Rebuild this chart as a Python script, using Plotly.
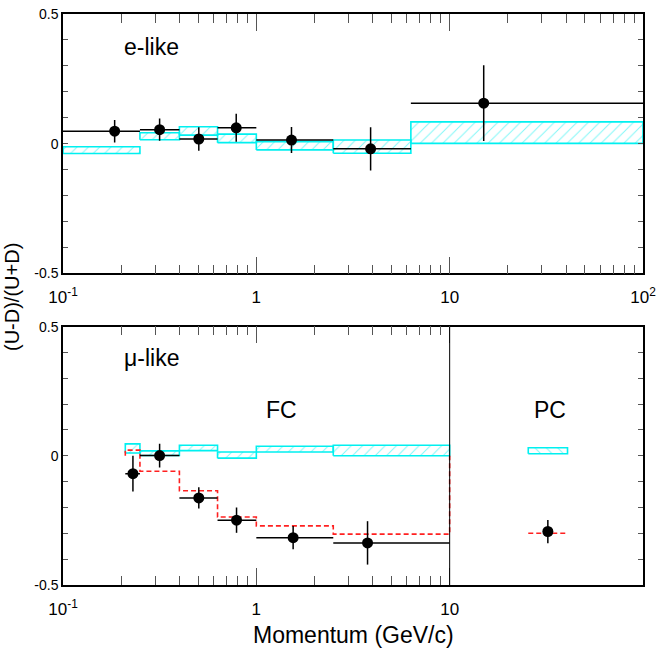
import plotly.graph_objects as go
from plotly.subplots import make_subplots

# ---------------- data ----------------
# e-like (top panel)
e_edges = [0.1, 0.25, 0.4, 0.63, 1.0, 2.5, 6.3, 100.0]
e_x = [0.185, 0.316, 0.504, 0.787, 1.52, 3.9, 15.0]
e_y = [0.048, 0.054, 0.018, 0.061, 0.014, -0.020, 0.156]
e_err = [0.043, 0.043, 0.045, 0.054, 0.050, 0.083, 0.146]
e_mc_hi = [-0.012, 0.042, 0.065, 0.037, 0.008, 0.014, 0.084]
e_mc_lo = [-0.038, 0.015, 0.033, 0.004, -0.024, -0.037, 0.001]

# mu-like FC (bottom panel)
m_edges = [0.21, 0.25, 0.4, 0.63, 1.0, 2.5, 10.0]
m_x = [0.23, 0.316, 0.504, 0.79, 1.55, 3.76]
m_y = [-0.069, 0.001, -0.163, -0.249, -0.317, -0.337]
m_err = [0.069, 0.046, 0.041, 0.049, 0.045, 0.084]
m_mc_hi = [0.046, 0.019, 0.041, 0.015, 0.037, 0.041]
m_mc_lo = [0.011, 0.001, 0.020, -0.009, 0.015, 0.000]
m_noosc = [0.022, -0.060, -0.135, -0.237, -0.271, -0.303]

# mu-like PC
pc_edges = [25.5, 40.7]
pc_x = [32.2]
pc_y = [-0.293]
pc_err = [0.045]
pc_mc_hi = [0.031]
pc_mc_lo = [0.008]
pc_noosc = [-0.300]

x_major = [0.1, 1, 10, 100]
x_major_text = ["10<sup>-1</sup>", "1", "10", "10<sup>2</sup>"]
x_minor_top = [m * 10 ** k for k in (-1, 0, 1) for m in range(2, 10)]
x_minor_bot = [m * 10 ** k for k in (-1, 0) for m in range(2, 10)]
y_major = [-0.5, 0, 0.5]
y_major_text = ["-0.5", "0", "0.5"]

CYAN = "#00f0f0"
FONT = "Liberation Sans"

fig = make_subplots(rows=2, cols=1, vertical_spacing=0.0)


def boxes(edges, lo, hi):
    xs, ys = [], []
    for i in range(len(lo)):
        x0, x1 = edges[i], edges[i + 1]
        xs += [x0, x1, x1, x0, x0, None]
        ys += [lo[i], lo[i], hi[i], hi[i], lo[i], None]
    return xs, ys


def add_boxes(edges, lo, hi, row, shape="/"):
    xs, ys = boxes(edges, lo, hi)
    fig.add_trace(go.Scatter(
        x=xs, y=ys, mode="lines", fill="toself",
        fillcolor="rgba(0,0,0,0)",
        fillpattern=dict(shape=shape, fgcolor=CYAN, bgcolor="white",
                         size=8, solidity=0.12),
        line=dict(color=CYAN, width=1.6), hoverinfo="skip",
        showlegend=False), row=row, col=1)


def add_points(xs, ys, err, edges, row, xbar=True):
    kw = {}
    if xbar:
        kw["error_x"] = dict(type="data", symmetric=False,
                             array=[edges[i + 1] - xs[i] for i in range(len(xs))],
                             arrayminus=[xs[i] - edges[i] for i in range(len(xs))],
                             color="black", thickness=1.5, width=0)
    fig.add_trace(go.Scatter(
        x=xs, y=ys, mode="markers",
        marker=dict(color="black", size=11, symbol="circle"),
        error_y=dict(type="data", array=err, color="black",
                     thickness=1.5, width=0),
        showlegend=False, **kw), row=row, col=1)


# top panel
add_boxes(e_edges, e_mc_lo, e_mc_hi, 1)
add_points(e_x, e_y, e_err, e_edges, 1)

# bottom panel
add_boxes(m_edges, m_mc_lo, m_mc_hi, 2)
add_boxes(pc_edges, pc_mc_lo, pc_mc_hi, 2, shape="\\")
step_x = [m_edges[0]] + m_edges[:-1] + [m_edges[-1], m_edges[-1]]
step_y = [0] + m_noosc + [m_noosc[-1], 0]
fig.add_trace(go.Scatter(x=step_x, y=step_y, mode="lines", line_shape="hv",
                         line=dict(color="#ff2020", width=1.6, dash="5px,3px"),
                         showlegend=False), row=2, col=1)
fig.add_trace(go.Scatter(x=pc_edges, y=pc_noosc * 2, mode="lines",
                         line=dict(color="#ff2020", width=1.6, dash="5px,3px"),
                         showlegend=False), row=2, col=1)
add_points(m_x, m_y, m_err, m_edges, 2)
add_points(pc_x, pc_y, pc_err, pc_edges, 2, xbar=False)

axis_common = dict(type="log", range=[-1, 2], showgrid=False, zeroline=False,
                   showline=True, linecolor="black", linewidth=1.5,
                   mirror="allticks", ticks="inside", ticklen=17,
                   tickwidth=1, tickcolor="#555555",
                   tickfont=dict(family=FONT, size=17, color="black"),
                   ticklabelstandoff=8)
fig.update_xaxes(**axis_common, tickmode="array", tickvals=x_major,
                 ticktext=x_major_text,
                 minor=dict(tickmode="array", tickvals=x_minor_top,
                            ticks="inside", ticklen=9, tickcolor="#555555",
                            tickwidth=1, showgrid=False),
                 row=1, col=1)
fig.update_xaxes(**axis_common, tickmode="array", tickvals=x_major[:3],
                 ticktext=x_major_text[:3],
                 minor=dict(tickmode="array", tickvals=x_minor_bot,
                            ticks="inside", ticklen=9, tickcolor="#555555",
                            tickwidth=1, showgrid=False),
                 row=2, col=1)
fig.update_yaxes(range=[-0.5, 0.5], showgrid=False, zeroline=False,
                 showline=True, linecolor="black", linewidth=1.5,
                 mirror="allticks", ticks="inside", ticklen=5, tickwidth=1,
                 tickcolor="#555555", tickmode="array", tickvals=y_major,
                 ticktext=y_major_text,
                 tickfont=dict(family=FONT, size=14, color="black"),
                 minor=dict(dtick=0.1, ticks="inside", ticklen=5,
                            tickcolor="#555555", tickwidth=1, showgrid=False))
fig.update_layout(
    yaxis=dict(domain=[0.5458, 1.0]),
    yaxis2=dict(domain=[0.0, 0.4525]),
    width=664, height=651,
    margin=dict(l=63, r=21, t=6, b=66),
    paper_bgcolor="white", plot_bgcolor="white",
    font=dict(family=FONT, color="black"),
    showlegend=False,
)

# vertical divider between FC and PC
fig.add_shape(type="line", xref="x2", yref="y2 domain", x0=10, x1=10,
              y0=0, y1=1, line=dict(color="black", width=1))

ann = [
    dict(text="e-like", x=0.101, y=0.943, xanchor="left", size=23),
    dict(text="μ-like", x=0.102, y=0.397, xanchor="left", size=23),
    dict(text="FC", x=0.376, y=0.307, xanchor="center", size=23),
    dict(text="PC", x=0.8405, y=0.307, xanchor="center", size=23),
    dict(text="Momentum (GeV/c)", x=0.5, y=-0.0875, xanchor="center", size=23),
]
for a in ann:
    fig.add_annotation(text=a["text"], x=a["x"], y=a["y"], xref="paper",
                       yref="paper", xanchor=a["xanchor"], yanchor="middle",
                       showarrow=False,
                       font=dict(family=FONT, size=a["size"], color="black"))
fig.add_annotation(text="(U-D)/(U+D)", x=-0.089, y=0.505, xref="paper",
                   yref="paper", textangle=-90, showarrow=False,
                   xanchor="center", yanchor="middle",
                   font=dict(family=FONT, size=20, color="black"))

fig.write_html("out.html", config={"displayModeBar": False},
               post_script="document.body.style.margin='0px';")
